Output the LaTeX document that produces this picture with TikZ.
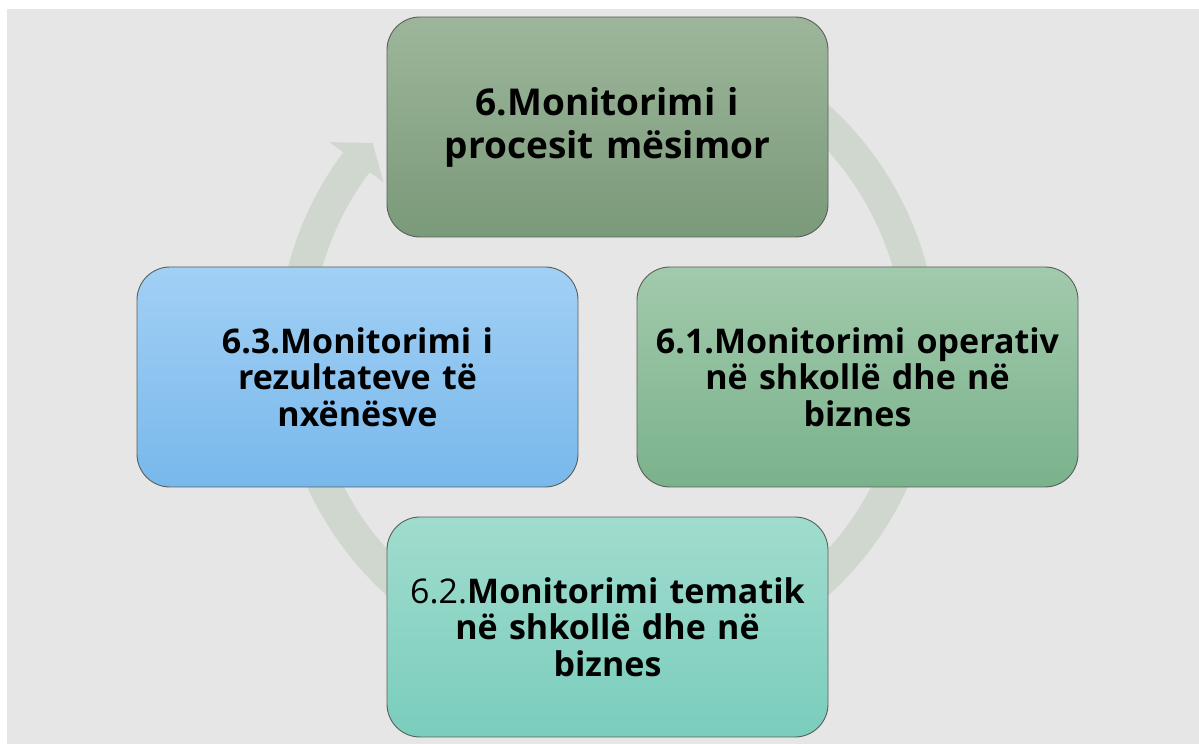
\documentclass[tikz,border=0pt]{standalone}
\usepackage{fontspec}
\setmainfont{Open Sans}
\usetikzlibrary{calc}
\definecolor{bg}{HTML}{E6E6E6}
\definecolor{arcc}{HTML}{CFD7CF}
\definecolor{boxline}{HTML}{5A5F5A}
\definecolor{topA}{HTML}{9DB69B}
\definecolor{topB}{HTML}{7A9A79}
\definecolor{rightA}{HTML}{A2CAAC}
\definecolor{rightB}{HTML}{7AB28C}
\definecolor{botA}{HTML}{A0DCCE}
\definecolor{botB}{HTML}{7ACDBC}
\definecolor{leftA}{HTML}{A2D0F5}
\definecolor{leftB}{HTML}{78B8EB}
\tikzset{
  box/.style={draw=boxline, line width=0.9pt, rounded corners=33pt,
    minimum width=441pt, minimum height=220pt, inner sep=0pt,
    align=center, text width=430pt},
  bigtext/.style={font=\fontsize{37}{43}\selectfont\bfseries},
  smalltext/.style={font=\fontsize{34}{36.5}\selectfont\bfseries},
  ring/.style={draw=arcc, line width=33pt},
  ringhead/.style={fill=arcc, draw=none}
}
\begin{document}
\begin{tikzpicture}[x=1pt,y=1pt]
\fill[white] (0,0) rectangle (1199,744);
\fill[bg] (7,0) rectangle (1199,735);
\useasboundingbox (0,0) rectangle (1199,744);
\coordinate (c) at (607.5,394);
% cycle arrow
\draw[ring] (c) ++(120:313.5) arc[start angle=120, end angle=-216.8, radius=313.5];
\fill[ringhead] ($(c)+(143.2:280)$) -- ($(c)+(143.2:347)$) -- ($(c)+(138.6:313)$) -- cycle;
% boxes
\node[box, bigtext, top color=topA, bottom color=topB] (n0) at (607.5,617) {6.Monitorimi i\\procesit mësimor};
\node[box, smalltext, top color=rightA, bottom color=rightB] (n1) at (857.5,367) {6.1.Monitorimi operativ\\në shkollë dhe në\\biznes};
\node[box, smalltext, top color=botA, bottom color=botB] (n2) at (607.5,117) {{\mdseries 6.2.}Monitorimi tematik\\në shkollë dhe në\\biznes};
\node[box, smalltext, top color=leftA, bottom color=leftB] (n3) at (357.5,367) {6.3.Monitorimi i\\rezultateve të\\nxënësve};
\end{tikzpicture}
\end{document}
